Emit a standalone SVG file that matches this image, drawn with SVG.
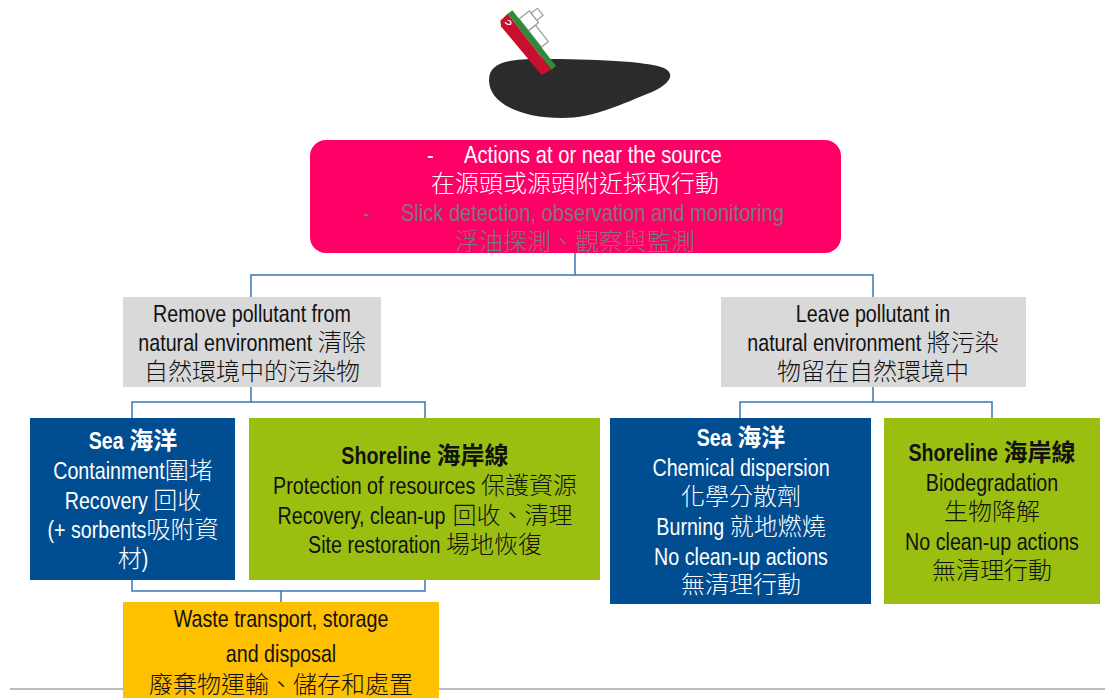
<svg xmlns="http://www.w3.org/2000/svg" width="1114" height="698" viewBox="0 0 1114 698">
  <style>
    /* Latin runs are drawn in Liberation Sans, squeezed to a narrow width */
    .n { font-family: "Liberation Sans", Arial, sans-serif; font-size: 24px; }
    .c { font-family: "Noto Sans CJK TC", "Noto Sans CJK SC", sans-serif; font-size: 24px; font-weight: 300; }
    .m { text-anchor: middle; }
    .w { fill: #ffffff; }
    .k { fill: #111111; }
    .g { fill: #7a7a7a; }
    .b { font-weight: bold; }
    .conn { fill: none; stroke: #3a75b5; stroke-width: 1.5; }
    .cabin { fill: #ffffff; stroke: #9a9a9a; stroke-width: 1.2; }
  </style>
  <rect width="1114" height="698" fill="#ffffff"/>

  <!-- footer rule -->
  <line x1="10" y1="689" x2="1105" y2="689" stroke="#a6a6a6" stroke-width="1.5"/>

  <!-- oil slick with sinking ship -->
  <g id="slick">
    <path d="M489 80 C489 63 506 59 540 59 C592 59 646 61 664 68 C676 74 670 84 652 92 C622 104 594 118 562 118 C522 118 489 104 489 80 Z" fill="#2b2b2b"/>
    <g transform="translate(510,12) rotate(52)">
      <rect class="cabin" x="26" y="-12" width="21" height="9"/>
      <rect class="cabin" x="11" y="-16" width="15" height="13"/>
      <rect class="cabin" x="14" y="-24" width="9" height="8"/>
      <rect x="0" y="-3" width="71" height="6" fill="#2e8b3a"/>
      <path d="M0 3 L71 3 L69 14 L6 16 L1 13 Z" fill="#c8102e"/>
      <path d="M5 7 q3 -3 5 0 q-2 4 -5 3" fill="none" stroke="#ffffff" stroke-width="1.2"/>
    </g>
  </g>

  <!-- connectors -->
  <g id="connectors" class="conn">
    <path d="M575 253 V275 M251 297 V275 H873 V297"/>
    <path d="M251 387 V402 M132 418 V402 H425 V418"/>
    <path d="M873 387 V402 M740 418 V402 H992 V418"/>
    <path d="M132 580 V591 H425 V580 M281 591 V602"/>
  </g>

  <g id="source">
    <rect x="310" y="140" width="531" height="113" rx="16" fill="#ff0066"/>
    <text class="n w" transform="scale(0.82 1)" y="163" style="font-size:24.6px"><tspan x="520.7">-</tspan><tspan x="565.9">Actions at or near the source</tspan></text>
    <text class="c w m" x="575" y="192">在源頭或源頭附近採取行動</text>
    <text class="n g" transform="scale(0.82 1)" y="221" style="font-size:24.5px"><tspan x="442.7">-</tspan><tspan x="489">Slick detection, observation and monitoring</tspan></text>
    <text class="c g m" x="575" y="250">浮油探測、觀察與監測</text>
  </g>

  <g id="remove">
    <rect x="123" y="297" width="258" height="90" fill="#d9d9d9"/>
    <text class="n k m" transform="scale(0.82 1)" x="307.3" y="322">Remove pollutant from</text>
    <text class="n k" transform="scale(0.82 1)" x="168.7" y="351">natural environment</text>
    <text class="c k" x="317.7" y="351">清除</text>
    <text class="c k m" x="252" y="380">自然環境中的污染物</text>
  </g>

  <g id="leave">
    <rect x="721" y="297" width="305" height="90" fill="#d9d9d9"/>
    <text class="n k m" transform="scale(0.82 1)" x="1064.6" y="322">Leave pollutant in</text>
    <text class="n k" transform="scale(0.82 1)" x="911.3" y="351">natural environment</text>
    <text class="c k" x="926.7" y="351">將污染</text>
    <text class="c k m" x="873" y="380">物留在自然環境中</text>
  </g>

  <g id="sea-remove">
    <rect x="30" y="418" width="205" height="162" fill="#004d91"/>
    <text class="n w b" transform="scale(0.82 1)" x="108.2" y="449">Sea</text>
    <text class="c w b" x="129.3" y="449">海洋</text>
    <text class="n w" transform="scale(0.82 1)" x="64.9" y="479">Containment</text>
    <text class="c w" x="164.8" y="479">圍堵</text>
    <text class="n w" transform="scale(0.82 1)" x="78.9" y="509">Recovery</text>
    <text class="c w" x="153.3" y="509">回收</text>
    <text class="n w" transform="scale(0.82 1)" x="57.9" y="538">(+ sorbents</text>
    <text class="c w" x="146.5" y="538">吸附資</text>
    <text class="c w" x="117.7" y="567">材</text>
    <text class="n w" transform="scale(0.82 1)" x="172.8" y="567">)</text>
  </g>

  <g id="shore-remove">
    <rect x="249" y="418" width="351" height="162" fill="#9bbf10"/>
    <text class="n k b" transform="scale(0.82 1)" x="416.3" y="464">Shoreline</text>
    <text class="c k b" x="436.6" y="464">海岸線</text>
    <text class="n k" transform="scale(0.82 1)" x="333.0" y="494">Protection of resources</text>
    <text class="c k" x="480.9" y="494">保護資源</text>
    <text class="n k" transform="scale(0.82 1)" x="338.4" y="524">Recovery, clean-up</text>
    <text class="c k" x="452.5" y="524">回收、清理</text>
    <text class="n k" transform="scale(0.82 1)" x="375.7" y="553">Site restoration</text>
    <text class="c k" x="445.9" y="553">場地恢復</text>
  </g>

  <g id="sea-leave">
    <rect x="610" y="418" width="261" height="186" fill="#004d91"/>
    <text class="n w b" transform="scale(0.82 1)" x="849.7" y="446">Sea</text>
    <text class="c w b" x="737.3" y="446">海洋</text>
    <text class="n w m" transform="scale(0.82 1)" x="903.7" y="476">Chemical dispersion</text>
    <text class="c w m" x="741" y="505">化學分散劑</text>
    <text class="n w" transform="scale(0.82 1)" x="800.4" y="535">Burning</text>
    <text class="c w" x="729.7" y="535">就地燃燒</text>
    <text class="n w m" transform="scale(0.82 1)" x="903.7" y="565">No clean-up actions</text>
    <text class="c w m" x="741" y="593">無清理行動</text>
  </g>

  <g id="shore-leave">
    <rect x="884" y="418" width="216" height="186" fill="#9bbf10"/>
    <text class="n k b" transform="scale(0.82 1)" x="1107.8" y="461">Shoreline</text>
    <text class="c k b" x="1003.6" y="461">海岸線</text>
    <text class="n k m" transform="scale(0.82 1)" x="1209.8" y="491">Biodegradation</text>
    <text class="c k m" x="992" y="520">生物降解</text>
    <text class="n k m" transform="scale(0.82 1)" x="1209.8" y="550">No clean-up actions</text>
    <text class="c k m" x="992" y="579">無清理行動</text>
  </g>

  <g id="waste">
    <rect x="123" y="602" width="316" height="100" fill="#ffc000"/>
    <text class="n k m" transform="scale(0.82 1)" x="342.7" y="627">Waste transport, storage</text>
    <text class="n k m" transform="scale(0.82 1)" x="342.7" y="662">and disposal</text>
    <text class="c k m" x="281" y="693">廢棄物運輸、儲存和處置</text>
  </g>
</svg>
